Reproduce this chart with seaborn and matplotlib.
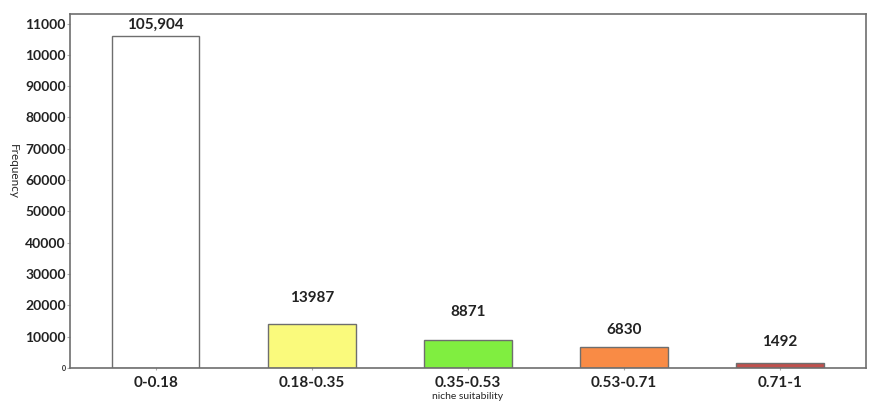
import matplotlib
matplotlib.use("Agg")
import pandas as pd
import seaborn as sns
import matplotlib.pyplot as plt

# niche suitability classes and pixel counts
classes = ["0-0.18", "0.18-0.35", "0.35-0.53", "0.53-0.71", "0.71-1"]
counts = [105904, 13987, 8871, 6830, 1492]
count_labels = ["105,904", "13987", "8871", "6830", "1492"]
bar_colors = ["#ffffff", "#fafa7c", "#80ee40", "#f98b45", "#c0504d"]

y_ticks = [0, 10000, 20000, 30000, 40000, 50000, 60000, 70000, 80000, 90000, 100000, 110000]
y_tick_labels = ["0", "10000", "20000", "30000", "40000", "50000", "60000",
                 "70000", "80000", "90000", "10000", "11000"]

label_pad = [3, 14, 15, 7, 10]  # points above each bar


def main():
    sns.set_theme(style="white")
    plt.rcParams["font.family"] = ["Lato", "DejaVu Sans"]

    df = pd.DataFrame({"cls": classes, "n": counts})
    fig = plt.figure(figsize=(8.8, 4.05), dpi=100)
    ax = fig.add_axes([0.0795, 0.0914, 0.9045, 0.8736])

    sns.barplot(data=df, x="cls", y="n", hue="cls", palette=bar_colors, saturation=1,
                legend=False, width=0.56, edgecolor="#6e6e6e", linewidth=1.0, ax=ax)

    for i, (v, txt) in enumerate(zip(counts, count_labels)):
        ax.annotate(txt, (i, v), xytext=(0, label_pad[i]), textcoords="offset points",
                    ha="center", va="bottom", fontsize=11, fontweight="bold", color="#222222")

    ax.set_ylim(0, 113000)
    ax.set_xlim(-0.55, 4.55)
    ax.set_yticks(y_ticks)
    ax.set_yticklabels(y_tick_labels, fontsize=10, fontweight="bold", color="#222222")
    ax.get_yticklabels()[0].set_fontsize(5)
    ax.set_xticks(range(len(classes)))
    ax.set_xticklabels(classes, fontsize=11, fontweight="bold", color="#222222")

    ax.set_xlabel("niche suitability", fontsize=7.5, labelpad=2)
    ax.set_ylabel("Frequency", fontsize=8.5, rotation=270, va="center")
    ax.yaxis.set_label_coords(-0.071, 0.555)

    for s in ax.spines.values():
        s.set_visible(True)
        s.set_color("#6e6e6e")
        s.set_linewidth(1.2)
    ax.tick_params(axis="y", which="major", length=2, width=0.8, color="#aaaaaa", pad=1, left=True)
    ax.tick_params(axis="x", which="major", length=3, width=0.8, color="#aaaaaa", pad=4,
                   direction="inout", bottom=True)

    fig.savefig("out.png", dpi=100)


if __name__ == '__main__':
    main()
